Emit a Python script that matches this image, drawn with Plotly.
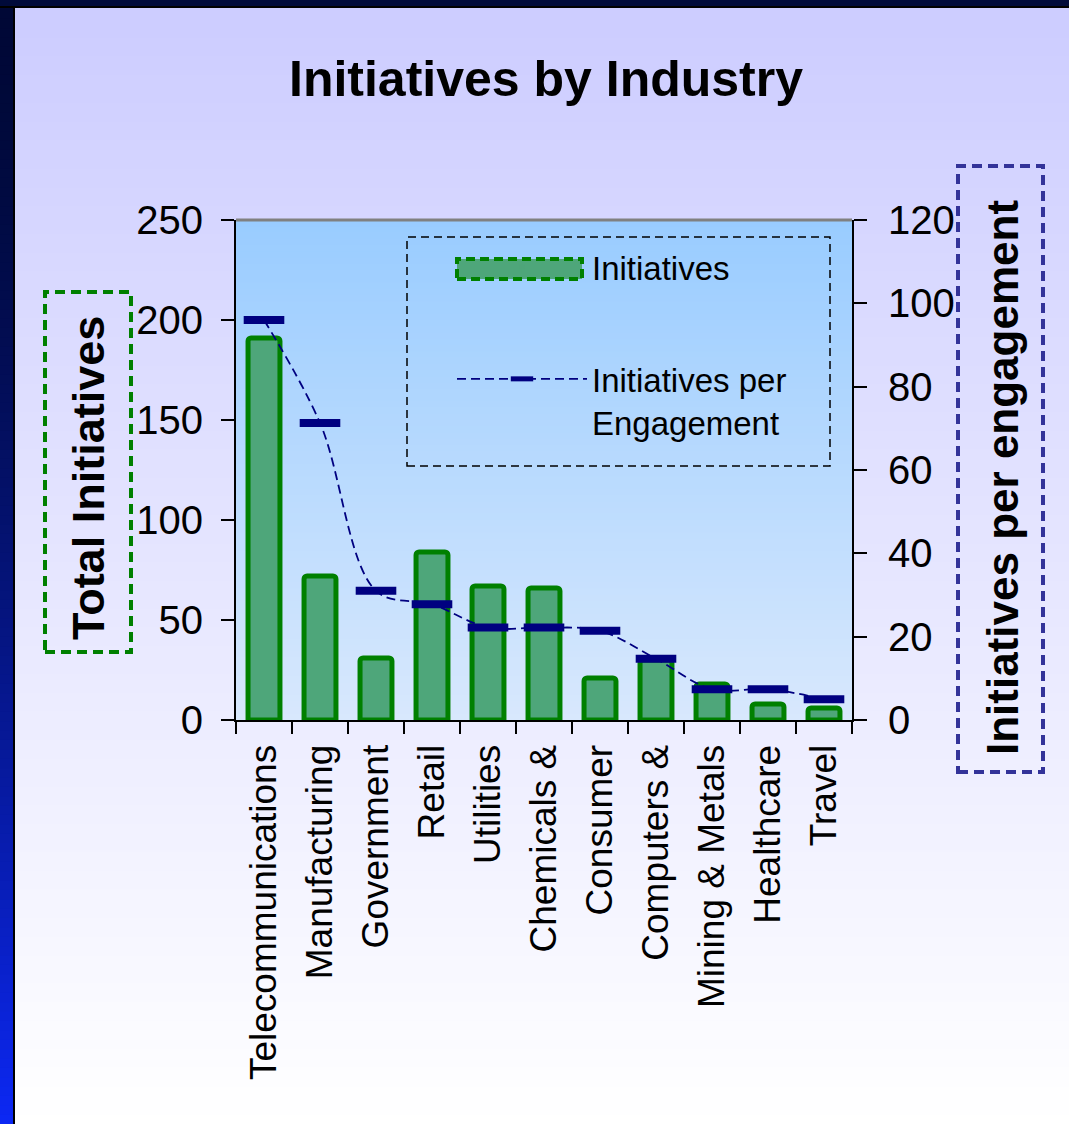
import plotly.graph_objects as go

# ---------------- data ----------------
industries = ["Telecommunications", "Manufacturing", "Government", "Retail", "Utilities",
              "Chemicals &", "Consumer", "Computers &", "Mining & Metals", "Healthcare", "Travel"]
total_initiatives = [191, 72, 31, 84, 67, 66, 21, 30, 18, 8, 6]
initiatives_per_engagement = [96, 71.3, 31, 27.8, 22.2, 22.2, 21.4, 14.7, 7.4, 7.4, 5]
left_ticks = [0, 50, 100, 150, 200, 250]
right_ticks = [0, 20, 40, 60, 80, 100, 120]

# ---------------- geometry ----------------
W, H = 1069, 1124
ML, MR, MT, MB = 236, 217, 220, 404
PW, PH = W - ML - MR, H - MT - MB
FONT = "Liberation Sans, Arial, sans-serif"
BAR_FILL = "#4ea67a"
BAR_LINE = "#008000"
NAVY = "#000080"


def px2x(px):
    return (px - ML) / PW


def py2y(py):
    return (H - MB - py) / PH


def lerp(c0, c1, t):
    return "rgb(%d,%d,%d)" % tuple(round(a + (b - a) * t) for a, b in zip(c0, c1))


shapes = []
# page background gradient (lavender -> white)
N = 120
for i in range(N):
    y0 = i * H / N
    y1 = (i + 1) * H / N + 1
    shapes.append(dict(type="rect", xref="paper", yref="paper", layer="below",
                       x0=px2x(0), x1=px2x(W), y0=py2y(y1), y1=py2y(y0),
                       line=dict(width=0),
                       fillcolor=lerp((204, 204, 255), (255, 255, 255), (i + 0.5) / N)))
# left dark frame strip
shapes.append(dict(type="rect", xref="paper", yref="paper", layer="below",
                   x0=px2x(0), x1=px2x(15), y0=py2y(H), y1=py2y(0),
                   line=dict(width=0), fillcolor="black"))
for i in range(N):
    y0 = i * H / N
    y1 = (i + 1) * H / N + 1
    shapes.append(dict(type="rect", xref="paper", yref="paper", layer="below",
                       x0=px2x(0), x1=px2x(13), y0=py2y(y1), y1=py2y(y0),
                       line=dict(width=0),
                       fillcolor=lerp((0, 8, 54), (12, 40, 244), ((i + 0.5) / N) ** 1.6)))
# top dark frame strip
shapes.append(dict(type="rect", xref="paper", yref="paper", layer="below",
                   x0=px2x(0), x1=px2x(W), y0=py2y(8), y1=py2y(0),
                   line=dict(width=0), fillcolor="black"))
shapes.append(dict(type="rect", xref="paper", yref="paper", layer="below",
                   x0=px2x(0), x1=px2x(W), y0=py2y(6), y1=py2y(0),
                   line=dict(width=0), fillcolor="rgb(0,10,58)"))
# plot area gradient (light blue -> pale)
M = 80
for i in range(M):
    shapes.append(dict(type="rect", xref="paper", yref="paper", layer="below",
                       x0=0, x1=1, y0=1 - (i + 1) / M - 0.002, y1=1 - i / M,
                       line=dict(width=0),
                       fillcolor=lerp((153, 204, 255), (216, 232, 253), (i + 0.5) / M)))
# top border of plot area
shapes.append(dict(type="line", xref="paper", yref="paper", layer="above",
                   x0=0, x1=1, y0=1, y1=1, line=dict(color="#808080", width=3)))
# dashed boxes round the axis titles
shapes.append(dict(type="rect", xref="paper", yref="paper", layer="above",
                   x0=px2x(45), x1=px2x(131), y0=py2y(652), y1=py2y(292),
                   line=dict(color="#008000", width=4, dash="10px,6px")))
shapes.append(dict(type="rect", xref="paper", yref="paper", layer="above",
                   x0=px2x(958), x1=px2x(1043), y0=py2y(772), y1=py2y(166),
                   line=dict(color="#333399", width=4, dash="10px,6px")))
# dashed legend frame
shapes.append(dict(type="rect", xref="paper", yref="paper", layer="above",
                   x0=px2x(407), x1=px2x(830), y0=py2y(466), y1=py2y(237),
                   line=dict(color="black", width=1.5, dash="8px,5px")))
# wide bar swatch for the "Initiatives" legend entry
shapes.append(dict(type="rect", xref="paper", yref="paper", layer="above",
                   x0=px2x(457), x1=px2x(582), y0=py2y(279), y1=py2y(259),
                   fillcolor=BAR_FILL, line=dict(color=BAR_LINE, width=4, dash="9px,5px")))

fig = go.Figure()
fig.add_trace(go.Bar(
    x=industries, y=total_initiatives, name="Initiatives",
    width=0.57, legendgroup="a", showlegend=False,
    marker=dict(color=BAR_FILL, line=dict(color=BAR_LINE, width=5), cornerradius=3),
))
# legend entry for the bars (swatch drawn as a shape above)
fig.add_trace(go.Scatter(
    x=[None], y=[None], name="Initiatives", legendgroup="a", mode="markers",
    marker=dict(opacity=0, color=BAR_FILL),
))
fig.add_trace(go.Scatter(
    x=industries, y=initiatives_per_engagement, name="Initiatives per<br>Engagement",
    yaxis="y2", mode="lines+markers", legendgroup="b",
    line=dict(color=NAVY, width=1.8, dash="9px,5px", shape="spline", smoothing=1.0),
    marker=dict(symbol="line-ew", size=29, color=NAVY,
                line=dict(color=NAVY, width=8)),
))

annotations = [
    dict(text="<b>Total Initiatives</b>", xref="paper", yref="paper",
         x=px2x(88), y=py2y(478), textangle=-90, showarrow=False,
         xanchor="center", yanchor="middle", font=dict(family=FONT, size=45, color="black")),
    dict(text="<b>Initiatives per engagement</b>", xref="paper", yref="paper",
         x=px2x(1002), y=py2y(478), textangle=-90, showarrow=False,
         xanchor="center", yanchor="middle", font=dict(family=FONT, size=44, color="black")),
]

fig.update_layout(
    width=W, height=H,
    margin=dict(l=ML, r=MR, t=MT, b=MB, autoexpand=False),
    paper_bgcolor="white", plot_bgcolor="rgba(0,0,0,0)",
    font=dict(family=FONT, color="black"),
    title=dict(text="<b>Initiatives by Industry</b>", x=546 / W, xanchor="center",
               y=1 - 78 / H, yanchor="middle", yref="container",
               font=dict(family=FONT, size=50, color="black")),
    shapes=shapes, annotations=annotations,
    legend=dict(x=px2x(452), y=py2y(239), xanchor="left", yanchor="top",
                bgcolor="rgba(0,0,0,0)", borderwidth=0,
                font=dict(family=FONT, size=33, color="black"),
                traceorder="grouped", tracegroupgap=66, itemwidth=130, valign="top"),
    xaxis=dict(type="category", range=[-0.5, len(industries) - 0.5],
               showline=True, linecolor="black", linewidth=2,
               ticks="outside", tickson="boundaries", ticklen=12, tickwidth=2, tickcolor="black",
               tickangle=-90, tickfont=dict(family=FONT, size=37, color="black"),
               ticklabelstandoff=8,
               showgrid=False, zeroline=False),
    yaxis=dict(range=[0, 250], tickvals=left_ticks, showline=True, linecolor="black",
               linewidth=2, ticks="outside", ticklen=13, tickwidth=2, tickcolor="black",
               tickfont=dict(family=FONT, size=40, color="black"), ticklabelstandoff=10,
               showgrid=False, zeroline=False),
    yaxis2=dict(range=[0, 120], tickvals=right_ticks, overlaying="y", side="right",
                showline=True, linecolor="black", linewidth=2, ticks="outside",
                ticklen=13, tickwidth=2, tickcolor="black",
                tickfont=dict(family=FONT, size=40, color="black"), ticklabelstandoff=13,
                showgrid=False, zeroline=False),
    hovermode=False,
)

fig.write_html("out.html")
